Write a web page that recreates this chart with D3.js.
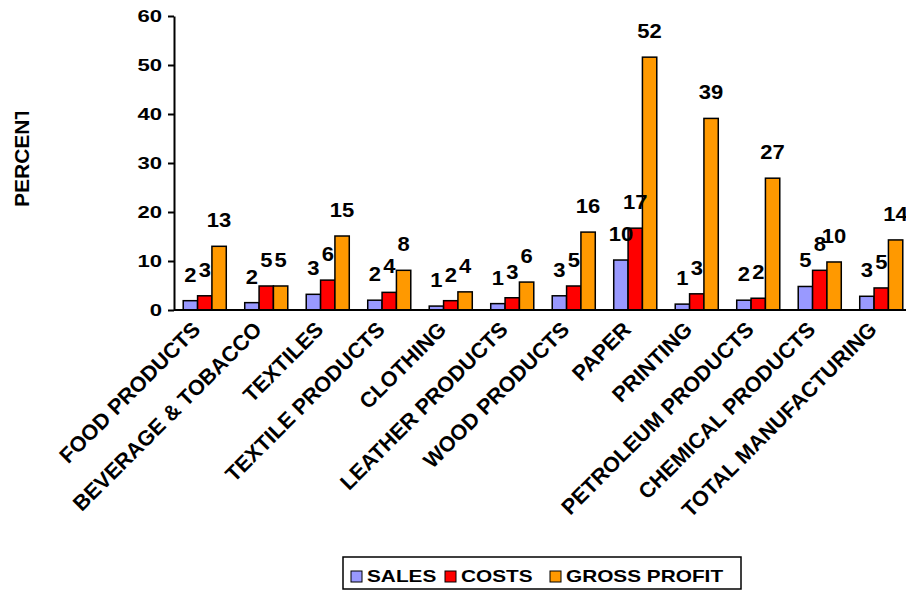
<!DOCTYPE html>
<html>
<head>
<meta charset="utf-8">
<script src="https://cdn.jsdelivr.net/npm/d3@7"></script>
<style>
  html, body { margin: 0; padding: 0; background: #fff; }
  svg { display: block; font-family: Arial, "Liberation Sans", sans-serif; font-weight: bold; }
</style>
</head>
<body>
<svg id="chart" width="906" height="599"></svg>
<script>
// Categories along the x axis
const categories = [
  "FOOD PRODUCTS", "BEVERAGE & TOBACCO", "TEXTILES", "TEXTILE PRODUCTS",
  "CLOTHING", "LEATHER PRODUCTS", "WOOD PRODUCTS", "PAPER", "PRINTING",
  "PETROLEUM PRODUCTS", "CHEMICAL PRODUCTS", "TOTAL MANUFACTURING"
];
// Series values (percent)
const sales       = [1.9, 1.5, 3.2, 2.0, 0.8, 1.3, 2.9, 10.2, 1.2, 2.0, 4.8, 2.8];
const costs       = [2.9, 4.9, 6.1, 3.6, 1.9, 2.5, 4.9, 16.7, 3.3, 2.4, 8.1, 4.5];
const grossProfit = [13.0, 4.9, 15.1, 8.1, 3.7, 5.7, 15.9, 51.6, 39.1, 26.9, 9.8, 14.3];
const seriesNames = ["SALES", "COSTS", "GROSS PROFIT"];
const seriesColors = ["#9999FF", "#FF0000", "#FF9900"];
const yTicks = [0, 10, 20, 30, 40, 50, 60];
const yTitle = "PERCENT";

const series = [sales, costs, grossProfit];
const svg = d3.select("#chart");

// Horizontal text in this chart is drawn wide
const SX = 1.3;

const plot = { left: 174, top: 16, bottom: 310, right: 912 };

const x = d3.scaleBand().domain(categories).range([plot.left, plot.right]).paddingInner(0.3).paddingOuter(0.15);
const xs = d3.scaleBand().domain(seriesNames).range([0, x.bandwidth()]);
const y = d3.scaleLinear().domain([0, 60]).range([plot.bottom, plot.top]);

// Y axis
const yAxis = svg.append("g").attr("transform", `translate(${plot.left},0)`)
  .call(d3.axisLeft(y).tickValues(yTicks).tickSize(6).tickPadding(0).tickSizeOuter(0));
yAxis.select(".domain").attr("stroke", "#000").attr("stroke-width", 2);
yAxis.selectAll(".tick line").attr("stroke", "#000").attr("stroke-width", 2);
yAxis.selectAll(".tick text")
  .attr("font-size", 17).attr("font-weight", "bold").attr("fill", "#000")
  .attr("font-family", "Arial, 'Liberation Sans', sans-serif")
  .attr("x", null).attr("dy", "0.35em")
  .attr("transform", `translate(-12,0) scale(${SX},1)`);

// Bars
const groups = svg.append("g").selectAll("g")
  .data(categories).join("g")
  .attr("transform", d => `translate(${x(d)},0)`);

groups.selectAll("rect")
  .data((d, i) => series.map((s, k) => ({ name: seriesNames[k], value: s[i], color: seriesColors[k] })))
  .join("rect")
  .attr("x", d => xs(d.name))
  .attr("width", xs.bandwidth())
  .attr("y", d => y(d.value))
  .attr("height", d => y(0) - y(d.value))
  .attr("fill", d => d.color)
  .attr("stroke", "#000").attr("stroke-width", 1.5);

// Value labels above each bar
groups.selectAll("text.val")
  .data((d, i) => series.map((s, k) => ({ name: seriesNames[k], value: s[i] })))
  .join("text").attr("class", "val")
  .attr("transform", d => `translate(${xs(d.name) + xs.bandwidth() / 2},${y(d.value) - 19}) scale(1.1,1)`)
  .attr("text-anchor", "middle")
  .attr("font-size", 20)
  .attr("fill", "#000")
  .text(d => d3.format(".0f")(d.value));

// X axis line
svg.append("line")
  .attr("x1", plot.left).attr("x2", plot.right)
  .attr("y1", y(0)).attr("y2", y(0))
  .attr("stroke", "#000").attr("stroke-width", 2);

// Category labels, rotated
svg.append("g").selectAll("text")
  .data(categories).join("text")
  .attr("transform", d => `translate(${x(d) + x.bandwidth() / 2 - 14},${plot.bottom + 10}) rotate(-45)`)
  .attr("text-anchor", "end")
  .attr("dy", "0.72em")
  .attr("font-size", 21.5)
  .attr("fill", "#000")
  .text(d => d);

// Y axis title (top of the word runs past the chart area)
svg.append("clipPath").attr("id", "titleClip")
  .append("rect").attr("x", 0).attr("y", 112).attr("width", 60).attr("height", 200);
svg.append("g")
  .attr("clip-path", "url(#titleClip)")
  .append("text")
  .attr("transform", "translate(29,207) rotate(-90)")
  .attr("font-size", 21)
  .attr("fill", "#000")
  .text(yTitle);

// Legend
const legend = svg.append("g");
legend.append("rect")
  .attr("x", 343).attr("y", 557).attr("width", 398).attr("height", 32)
  .attr("fill", "#fff").attr("stroke", "#000").attr("stroke-width", 1.5);
const legendX = [351, 445, 550];
seriesNames.forEach((name, k) => {
  legend.append("rect")
    .attr("x", legendX[k]).attr("y", 571).attr("width", 11).attr("height", 11)
    .attr("fill", seriesColors[k]).attr("stroke", "#000").attr("stroke-width", 1);
  legend.append("text")
    .attr("transform", `translate(${legendX[k] + 16},582) scale(${SX},1)`)
    .attr("font-size", 16)
    .attr("fill", "#000")
    .text(name);
});
</script>
</body>
</html>
